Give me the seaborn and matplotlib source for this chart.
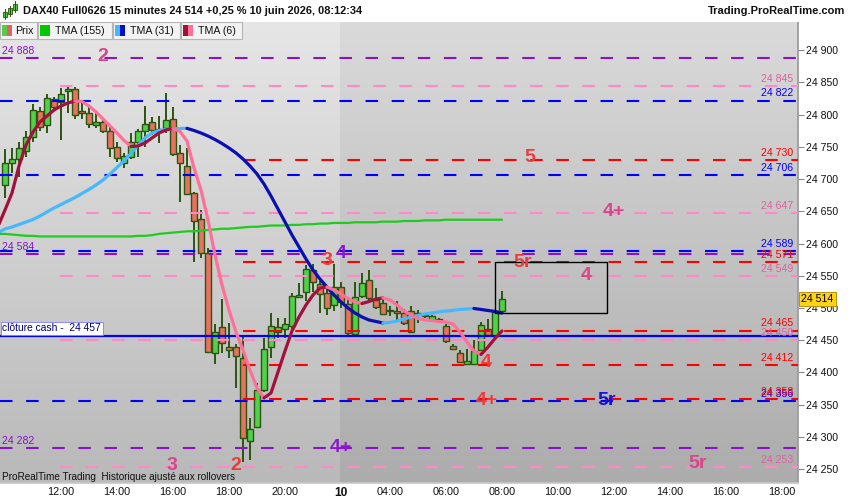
import numpy as np
import pandas as pd
import matplotlib
matplotlib.use("Agg")
import matplotlib.pyplot as plt
import matplotlib.transforms as mtransforms
from matplotlib.patches import Rectangle
from matplotlib.colors import LinearSegmentedColormap
import seaborn as sns

# ---------------- data (15-minute bars, index = bar number) ----------------
opens = [24691, 24725, 24732, 24744, 24766, 24805, 24784, 24824, 24820, 24837,
         24840, 24805, 24802, 24784, 24788, 24774, 24750, 24725, 24734, 24757,
         24774, 24788, 24778, 24779, 24793, 24740, 24720, 24678, 24638, 24586,
         24430, 24471, 24440, 24440, 24422, 24294, 24316, 24373, 24440, 24462,
         24468, 24472, 24517, 24525, 24559, 24537, 24524, 24505, 24533, 24506,
         24460, 24518, 24543, 24512, 24508, 24495, 24495, 24492, 24495, 24492,
         24488, 24482, 24482, 24472, 24441, 24430, 24413, 24413, 24435, 24468,
         24457, 24496]
highs = [24747, 24748, 24758, 24774, 24816, 24812, 24832, 24828, 24841, 24844,
         24843, 24820, 24813, 24802, 24794, 24781, 24758, 24740, 24772, 24778,
         24814, 24796, 24798, 24833, 24812, 24753, 24748, 24680, 24652, 24593,
         24475, 24514, 24476, 24444, 24458, 24329, 24383, 24454, 24492, 24485,
         24485, 24523, 24539, 24567, 24569, 24542, 24536, 24568, 24541, 24512,
         24540, 24554, 24559, 24531, 24515, 24503, 24511, 24499, 24503, 24497,
         24492, 24489, 24485, 24475, 24444, 24435, 24436, 24450, 24478, 24483,
         24493, 24527]
lows = [24671, 24709, 24704, 24735, 24758, 24774, 24771, 24805, 24761, 24802,
        24794, 24794, 24780, 24779, 24771, 24735, 24727, 24717, 24732, 24735,
        24750, 24768, 24756, 24771, 24736, 24665, 24676, 24572, 24578, 24430,
        24413, 24430, 24422, 24376, 24261, 24264, 24315, 24370, 24422, 24453,
        24453, 24467, 24516, 24511, 24525, 24492, 24489, 24496, 24500, 24456,
        24458, 24515, 24512, 24498, 24489, 24487, 24481, 24473, 24461, 24477,
        24484, 24480, 24478, 24446, 24434, 24414, 24413, 24413, 24433, 24456,
        24450, 24496]
closes = [24725, 24731, 24749, 24765, 24807, 24781, 24826, 24812, 24832, 24840,
          24800, 24802, 24785, 24788, 24774, 24748, 24733, 24736, 24758, 24774,
          24785, 24777, 24775, 24792, 24739, 24725, 24677, 24635, 24586, 24432,
          24462, 24445, 24434, 24426, 24298, 24312, 24373, 24437, 24472, 24470,
          24475, 24519, 24520, 24561, 24541, 24521, 24500, 24532, 24510, 24461,
          24517, 24539, 24515, 24502, 24491, 24496, 24492, 24476, 24463, 24490,
          24489, 24487, 24481, 24448, 24436, 24416, 24418, 24433, 24474, 24458,
          24493, 24514]

# moving averages start one bar earlier (bar -1, off the left edge of the candles)
ma_first_bar = -1
tma155 = [24615, 24615, 24614, 24613, 24612, 24612, 24611, 24611, 24611, 24611, 24611,
          24611, 24611, 24611, 24611, 24611, 24611, 24611, 24611, 24611, 24612,
          24612, 24613, 24615, 24616, 24617, 24618, 24619, 24619, 24620, 24621,
          24622, 24623, 24623, 24624, 24625, 24626, 24626, 24627, 24628, 24628,
          24628, 24629, 24629, 24630, 24630, 24631, 24631, 24632, 24632, 24632,
          24633, 24633, 24633, 24633, 24634, 24634, 24634, 24635, 24635, 24635,
          24636, 24636, 24636, 24637, 24637, 24637, 24637, 24637, 24637, 24637,
          24637, 24637]
tma31 = [24617.0, 24622.6, 24625.7, 24629.6, 24633.5, 24637.4, 24642.8, 24649.0, 24655.2, 24660.6, 24666.1,
         24671.5, 24677.7, 24683.9, 24690.9, 24698.7, 24708.0, 24718.1, 24728.2, 24739.8, 24752.2,
         24763.9, 24771.6, 24775.5, 24777.0, 24777.8, 24778.6, 24778.8, 24775.5, 24771.6, 24766.9,
         24761.5, 24755.3, 24748.3, 24740.6, 24731.3, 24720.4, 24708.0, 24692.5, 24673.8, 24653.7,
         24633.5, 24613.3, 24594.7, 24576.0, 24558.9, 24545.0, 24532.5, 24520.1, 24509.3, 24500.0,
         24492.2, 24486.0, 24481.3, 24479.0, 24476.7, 24477.5, 24479.8, 24482.9, 24486.0, 24488.4,
         24490.7, 24492.2, 24493.8, 24495.3, 24496.4, 24497.7, 24498.4, 24499.2, 24497.7, 24496.1,
         24494.6, 24492.2]
tma6 = [24626.5, 24652.1, 24678.5, 24720.4, 24753.0, 24773.2, 24788.7, 24798.0, 24807.3, 24813.5, 24818.2,
        24821.3, 24820.5, 24813.5, 24804.3, 24793.4, 24782.5, 24771.6, 24760.0, 24750.7, 24751.4,
        24756.1, 24763.9, 24771.6, 24776.3, 24778.6, 24774.0, 24759.2, 24717.3, 24683.1, 24636.6,
        24582.3, 24535.7, 24496.9, 24462.7, 24434.8, 24403.7, 24375.8, 24360.3, 24368.0, 24400.6,
        24433.2, 24464.3, 24486.0, 24504.6, 24520.1, 24531.0, 24532.5, 24527.9, 24521.7, 24514.7,
        24509.3, 24506.9, 24510.0, 24513.9, 24515.5, 24512.4, 24504.6, 24495.3, 24489.1, 24483.7,
        24481.3, 24480.6, 24479.0, 24478.3, 24475.1, 24462.7, 24447.2, 24433.2, 24427.8, 24439.4,
        24452.6, 24464.3]

time_ticks = [8, 16, 24, 32, 40, 48, 55, 63, 71, 79, 87, 95, 103, 111]
time_labels = ["12:00", "14:00", "16:00", "18:00", "20:00", "10", "04:00", "06:00",
               "08:00", "10:00", "12:00", "14:00", "16:00", "18:00"]
price_ticks = [24250, 24300, 24350, 24400, 24450, 24500, 24550, 24600,
               24650, 24700, 24750, 24800, 24850, 24900]
day_start_bar = 47.9

purple_levels = [24888, 24584, 24282]
blue_levels = [24822, 24706, 24589, 24356]
pink_levels = [24845, 24647, 24549, 24450, 24253]
red_levels = [24730, 24571, 24465, 24412, 24358]
cash_close = 24457
last_price = 24514

wave_text = ["2", "5", "4+", "3", "4", "5r", "4", "4", "4+", "5r", "4+", "3", "2", "5r"]
wave_bar = [14, 75, 87, 46, 48.1, 73.9, 83, 68.7, 68.9, 86, 48, 23.9, 32.9, 99]
wave_price = [24890, 24734, 24649, 24573, 24585, 24570, 24550, 24416, 24357, 24357,
              24284, 24255, 24255, 24258]
wave_family = ["pink", "red", "pink", "red", "purple", "red", "pink", "red", "red",
               "blue", "purple", "pink", "red", "pink"]

box_bars = [70, 86]
box_prices = [24492, 24571]

# ---------------- style ----------------
sns.set_theme(style="white")
plt.rcParams["font.family"] = ["Liberation Sans", "DejaVu Sans"]
plt.rcParams["lines.scale_dashes"] = False

C_PURPLE = "#8a12cc"
C_BLUE = "#0000ff"
C_PINK_LINE = "#ff88c6"
C_PINK_TXT = "#e0609e"
C_RED = "#ff0000"
WAVE_COLORS = {"pink": "#d9448a", "red": "#f03a3a", "purple": "#8a18d0", "blue": "#1212e0"}

fig = plt.figure(figsize=(8.5, 5.0), dpi=100, facecolor="white")
W, H = 850.0, 500.0
ax = fig.add_axes([0, (H - 483) / H, 798 / W, (483 - 22) / H])
XMIN, XMAX = -0.714, 113.29
YMIN, YMAX = 24228.3, 24943.9

# background gradients (day 9 lighter, day 10 darker)
grad = np.linspace(0, 1, 256).reshape(-1, 1)
cm_left = LinearSegmentedColormap.from_list("l", ["#e6e6e6", "#b9b9b9"])
cm_right = LinearSegmentedColormap.from_list("r", ["#dadada", "#acacac"])
ax.imshow(grad, extent=[XMIN, day_start_bar, YMIN, YMAX], aspect="auto",
          cmap=cm_left, origin="upper", zorder=0, interpolation="bilinear")
ax.imshow(grad, extent=[day_start_bar, XMAX, YMIN, YMAX], aspect="auto",
          cmap=cm_right, origin="upper", zorder=0, interpolation="bilinear")

# ---------------- candles ----------------
df = pd.DataFrame({"open": opens, "high": highs, "low": lows, "close": closes})
df["bar"] = np.arange(len(df))
up = df["close"] >= df["open"]
edge = "#2b5510"
ax.vlines(df["bar"], df["low"], df["high"], color=edge, lw=1.4, zorder=3)
body_lo = df[["open", "close"]].min(axis=1)
body_h = (df["close"] - df["open"]).abs().clip(lower=1.6)
ax.bar(df["bar"], body_h, bottom=body_lo, width=0.72,
       color=np.where(up, "#4fd24a", "#e8725f"), edgecolor=edge, linewidth=1.0, zorder=4)

# ---------------- horizontal levels ----------------
dash = (0, (9.0, 9.8))
bx = mtransforms.blended_transform_factory(ax.transAxes, ax.transData)
for lv in purple_levels:
    ax.hlines(lv, XMIN, XMAX, color=C_PURPLE, lw=1.5, linestyles=[dash], zorder=5)
    ax.annotate(f"{lv:,}".replace(",", " "), xy=(0.003, lv), xycoords=bx, xytext=(0, 1.5),
                textcoords="offset points", color=C_PURPLE, fontsize=7.6, ha="left", va="bottom", zorder=7)
for lv in blue_levels:
    ax.hlines(lv, XMIN, XMAX, color=C_BLUE, lw=1.5, linestyles=[dash], zorder=5)
for lv in pink_levels:
    ax.hlines(lv, 7.9, XMAX, color=C_PINK_LINE, lw=1.5, linestyles=[dash], zorder=5)
for lv in red_levels:
    ax.hlines(lv, 34.0, XMAX, color=C_RED, lw=1.5, linestyles=[dash], zorder=5)

for levels, col in ((pink_levels, C_PINK_TXT), (blue_levels, C_BLUE), (red_levels, C_RED)):
    for lv in levels:
        ax.annotate(f"{lv:,}".replace(",", " "), xy=(0.9935, lv), xycoords=bx, xytext=(0, 1.5),
                    textcoords="offset points", color=col, fontsize=7.6, ha="right", va="bottom", zorder=7)

ax.axhline(cash_close, color="#0000ff", lw=1.6, zorder=5)
ax.annotate("clôture cash -  24 457", xy=(0.003, cash_close), xycoords=bx, xytext=(0, 5.2),
            textcoords="offset points", color="#00007a", fontsize=7.4, ha="left", va="center", zorder=8,
            bbox=dict(boxstyle="square,pad=0.18", fc="white", ec="#7f7fff", lw=0.6))

# ---------------- moving averages ----------------
ma_bars = np.arange(ma_first_bar, ma_first_bar + len(tma155))
sns.lineplot(x=ma_bars, y=tma155, color="#1fcb1f", lw=1.6, ax=ax, legend=False, zorder=6)


def draw_colored(values, up_color, down_color, lw):
    v = np.asarray(values, float)
    bars = np.arange(ma_first_bar, ma_first_bar + len(v))
    d = np.diff(v)
    cols = np.where(d >= 0, up_color, down_color)
    start = 0
    for i in range(1, len(d) + 1):
        if i == len(d) or cols[i] != cols[start]:
            sns.lineplot(x=bars[start:i + 1], y=v[start:i + 1], color=cols[start], lw=lw, ax=ax,
                         legend=False, zorder=6, solid_capstyle="round")
            start = i


draw_colored(tma31, "#45b9ff", "#0a0fb4", 2.3)
draw_colored(tma6, "#a3103c", "#ff6f98", 2.3)

# ---------------- annotations ----------------
for t, b, p, f in zip(wave_text, wave_bar, wave_price, wave_family):
    ax.text(b, p, t, color=WAVE_COLORS[f], fontsize=14, fontweight="bold",
            ha="center", va="center", zorder=9)

ax.add_patch(Rectangle((box_bars[0], box_prices[0]), box_bars[1] - box_bars[0],
                       box_prices[1] - box_prices[0], fill=False, ec="black", lw=1.0, zorder=8))

ax.text(0.003, 0.014, "ProRealTime Trading  Historique ajusté aux rollovers", transform=ax.transAxes,
        fontsize=7.2, color="#111111", ha="left", va="center", zorder=9)

# ---------------- axes ----------------
ax.set_xlim(XMIN, XMAX)
ax.set_ylim(YMIN, YMAX)
ax.yaxis.tick_right()
ax.set_yticks(price_ticks)
ax.set_yticklabels([f"{v:,}".replace(",", " ") for v in price_ticks])
ax.tick_params(axis="y", length=4, width=0.8, color="#8a8a8a", pad=2, labelsize=7.6, labelcolor="#111111")
ax.set_xticks(time_ticks)
ax.set_xticklabels(time_labels)
ax.tick_params(axis="x", length=0, pad=3, labelsize=7.8, labelcolor="#111111")
for lbl in ax.get_xticklabels():
    if lbl.get_text() == "10":
        lbl.set_fontweight("bold")
        lbl.set_fontsize(8.6)
ax.set_xlabel("")
ax.set_ylabel("")
for s in ("top", "left"):
    ax.spines[s].set_visible(False)
ax.spines["right"].set_color("#9a9a9a")
ax.spines["bottom"].set_color("#c8c8c8")
ax.grid(False)

ax.text(1.004, last_price, f"{last_price:,}".replace(",", " "), transform=bx, fontsize=7.6,
        ha="left", va="center", color="black", zorder=12, clip_on=False,
        bbox=dict(boxstyle="square,pad=0.22", fc="#ffd21a", ec="#b8920a", lw=0.7))

# ---------------- header (title + legend strip) ----------------
ov = fig.add_axes([0, 0, 1, 1], zorder=20)
ov.set_xlim(0, W)
ov.set_ylim(H, 0)
ov.axis("off")
ov.add_patch(Rectangle((0, 0), W, 21.5, fc="white", ec="none"))
for cx, y0, y1, w0, w1 in ((5, 12, 17, 9, 19), (10, 8, 14, 6, 16), (15, 4, 10, 1, 12)):
    ov.plot([cx, cx], [w0, w1], color="#2b5510", lw=0.8)
    ov.add_patch(Rectangle((cx - 1.6, y0), 3.2, y1 - y0, fc="#4fd24a", ec="#2b5510", lw=0.6))
ov.text(23, 11.5, "DAX40 Full0626 15 minutes 24 514 +0,25 % 10 juin 2026, 08:12:34",
        fontsize=7.9, fontweight="bold", ha="left", va="center", color="#111111")
ov.text(845, 11.5, "Trading.ProRealTime.com", fontsize=8, fontweight="bold",
        ha="right", va="center", color="#111111")

legend_boxes = [(0, 37, "Prix", ["#55cc44", "#e06262"], 15),
                (38, 112, "TMA (155)", ["#00c800"], 55),
                (113, 180, "TMA (31)", ["#45b9ff", "#0010c8"], 130),
                (181, 242, "TMA (6)", ["#a3103c", "#ff6f98"], 198)]
for x0, x1, txt, cols, tx in legend_boxes:
    ov.add_patch(Rectangle((x0, 21.7), x1 - x0, 17.6, fc="#f3f3f3", ec="#b5b5b5", lw=0.8))
    sw = 10.0 / len(cols)
    for j, c in enumerate(cols):
        ov.add_patch(Rectangle((x0 + 2.5 + j * sw, 25), sw, 11, fc=c, ec="none"))
    ov.text(tx, 31, txt, fontsize=7.7, ha="left", va="center", color="#111111")

fig.savefig("out.png", dpi=100, facecolor="white")
